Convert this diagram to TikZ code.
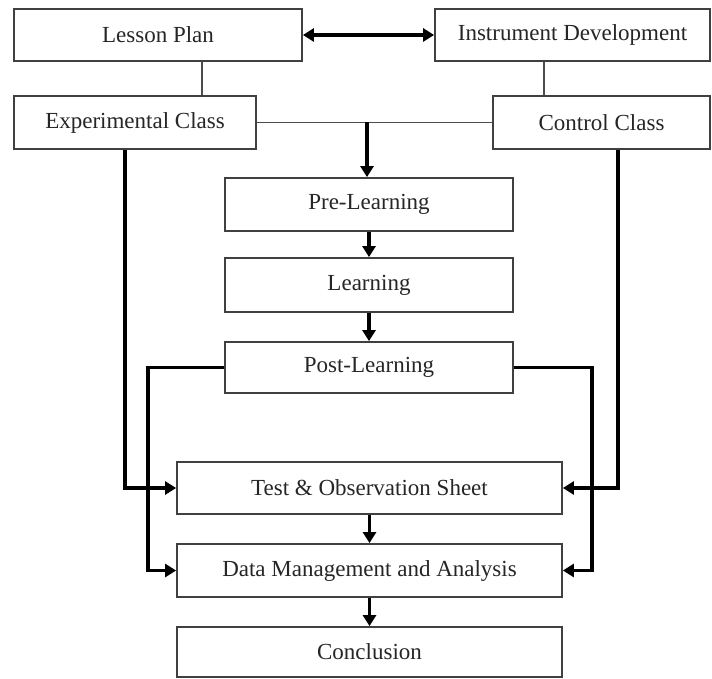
\documentclass[tikz,border=0pt]{standalone}
\usepackage{fontspec}
\setmainfont{Liberation Serif}
\usetikzlibrary{arrows.meta}
\begin{document}
\begin{tikzpicture}[x=1pt,y=-1pt,
  box/.style={draw=black!75,line width=1.8pt,rectangle,inner sep=0pt,fill=white,text=black!85,
    font=\fontsize{23}{27}\selectfont},
  thinline/.style={draw=black!70,line width=1.7pt},
  flow/.style={draw=black,line width=3.5pt,-{Triangle[length=11pt,width=13pt]}},
  both/.style={draw=black,line width=3.5pt,{Triangle[length=11pt,width=13pt]}-{Triangle[length=11pt,width=13pt]}}
]
\useasboundingbox (0,0) rectangle (712,679);
\node[box,minimum width=288pt,minimum height=52pt] (lp) at (158,35) {Lesson Plan};
\node[box,minimum width=275pt,minimum height=52pt] (id) at (572.5,35) {Instrument Development};
\node[box,minimum width=242pt,minimum height=53pt] (ec) at (135,122.5) {Experimental Class};
\node[box,minimum width=217pt,minimum height=53pt] (cc) at (601.5,122.5) {Control Class};
\node[box,minimum width=288pt,minimum height=53pt] (pre) at (369,204.5) {Pre-Learning};
\node[box,minimum width=288pt,minimum height=54pt] (lrn) at (369,285) {Learning};
\node[box,minimum width=288pt,minimum height=51pt] (post) at (369,367.5) {Post-Learning};
\node[box,minimum width=385pt,minimum height=52pt] (tst) at (369.5,488) {Test \& Observation Sheet};
\node[box,minimum width=385pt,minimum height=53pt] (dat) at (369.5,570.5) {Data Management and Analysis};
\node[box,minimum width=385pt,minimum height=50pt] (con) at (369.5,652) {Conclusion};

% thin connectors
\draw[thinline] ([xshift=44pt]lp.south) -- ([xshift=44pt]lp.south |- ec.north);
\draw[thinline] ([xshift=-28.5pt]id.south) -- ([xshift=-28.5pt]id.south |- cc.north);
\draw[thinline] (ec.east) -- (cc.west);

% thick arrows
\draw[both] (lp.east) -- (id.west);
\coordinate (mid) at (367,122.5);
\draw[flow] (mid) -- (mid |- pre.north);
\draw[flow] (pre.south) -- (lrn.north);
\draw[flow] (lrn.south) -- (post.north);
\draw[flow] (tst.south) -- (dat.north);
\draw[flow] (dat.south) -- (con.north);

\draw[flow] ([xshift=-10pt]ec.south) |- (tst.west);
\draw[flow] ([xshift=16.5pt]cc.south) |- (tst.east);
\coordinate (pl) at (148,367.5);
\coordinate (pr) at (592,367.5);
\draw[flow] (post.west) -- (pl) |- (dat.west);
\draw[flow] (post.east) -- (pr) |- (dat.east);
\end{tikzpicture}
\end{document}
